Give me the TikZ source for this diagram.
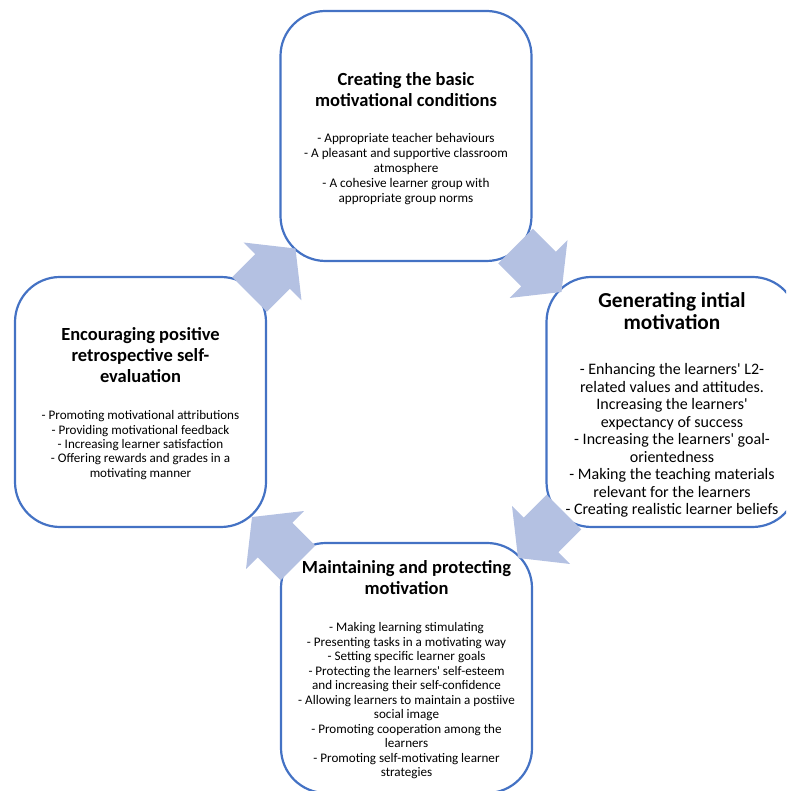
\documentclass[tikz,border=0pt]{standalone}
\usepackage{fontspec}
\setmainfont{Carlito}
\definecolor{boxblue}{HTML}{4472C4}
\definecolor{arrowfill}{RGB}{180,193,226}
\tikzset{
  stagebox/.style={draw=boxblue, line width=2.2pt, rounded corners=45pt, fill=white,
    minimum width=251pt, minimum height=250pt, inner sep=0pt},
  titletext/.style={align=center, inner sep=0pt, font=\fontsize{18.5}{21}\selectfont\bfseries},
  bigtitletext/.style={align=center, inner sep=0pt, font=\fontsize{21.3}{22}\selectfont\bfseries},
  bodytext/.style={align=center, inner sep=0pt, font=\fontsize{13.2}{15}\selectfont},
  bigbodytext/.style={align=center, inner sep=0pt, font=\fontsize{16}{17.5}\selectfont},
  blockarrow/.style={fill=arrowfill, draw=none}
}
\newcommand\stagearrow[2]{%
  \fill[blockarrow, shift={(#1)}, rotate=#2]
    (-32.5,-24.5) -- (0,-24.5) -- (0,-41) -- (32.5,0) -- (0,41) -- (0,24.5) -- (-32.5,24.5) -- cycle;}
\begin{document}
\begin{tikzpicture}[x=1pt,y=1pt]
\useasboundingbox (0,0) rectangle (786,791);
\clip (0,0) rectangle (786,791);
% boxes
\node[stagebox] (top) at (406,655) {};
\node[stagebox] (left) at (140.5,389) {};
\node[stagebox] (right) at (672,389) {};
\node[stagebox] (bottom) at (406.5,123) {};
% texts
\node[titletext] (toptitle) at (406,701.5) {Creating the basic\\motivational conditions};
\node[bodytext] (topbody) at (406,622) {- Appropriate teacher behaviours\\- A pleasant and supportive classroom\\atmosphere\\- A cohesive learner group with\\appropriate group norms};
\node[bigtitletext] (righttitle) at (672,480) {Generating intial\\motivation};
\node[bigbodytext] (rightbody) at (672,350.5) {- Enhancing the learners\textquotesingle{} L2-\\related values and attitudes.\\Increasing the learners\textquotesingle\\expectancy of success\\- Increasing the learners\textquotesingle{} goal-\\orientedness\\- Making the teaching materials\\relevant for the learners\\- Creating realistic learner beliefs};
\node[titletext] (lefttitle) at (140.5,435.5) {Encouraging positive\\retrospective self-\\evaluation};
\node[bodytext, font=\fontsize{13.1}{14.4}\selectfont] (leftbody) at (140.5,346) {- Promoting motivational attributions\\- Providing motivational feedback\\- Increasing learner satisfaction\\- Offering rewards and grades in a\\motivating manner};
\node[titletext] (bottomtitle) at (406.5,213.5) {Maintaining and protecting\\motivation};
\node[bodytext, font=\fontsize{13.1}{14.5}\selectfont] (bottombody) at (406.5,90) {- Making learning stimulating\\- Presenting tasks in a motivating way\\- Setting specific learner goals\\- Protecting the learners\textquotesingle{} self-esteem\\and increasing their self-confidence\\- Allowing learners to maintain a postiive\\social image\\- Promoting cooperation among the\\learners\\- Promoting self-motivating learner\\strategies};
% block arrows
\coordinate (a1) at (272.5,519.5);
\coordinate (a2) at (538.5,522);
\coordinate (a3) at (541,256);
\coordinate (a4) at (275,251);
\stagearrow{a1}{45}
\stagearrow{a2}{-45}
\stagearrow{a3}{-135}
\stagearrow{a4}{135}
\end{tikzpicture}
\end{document}
